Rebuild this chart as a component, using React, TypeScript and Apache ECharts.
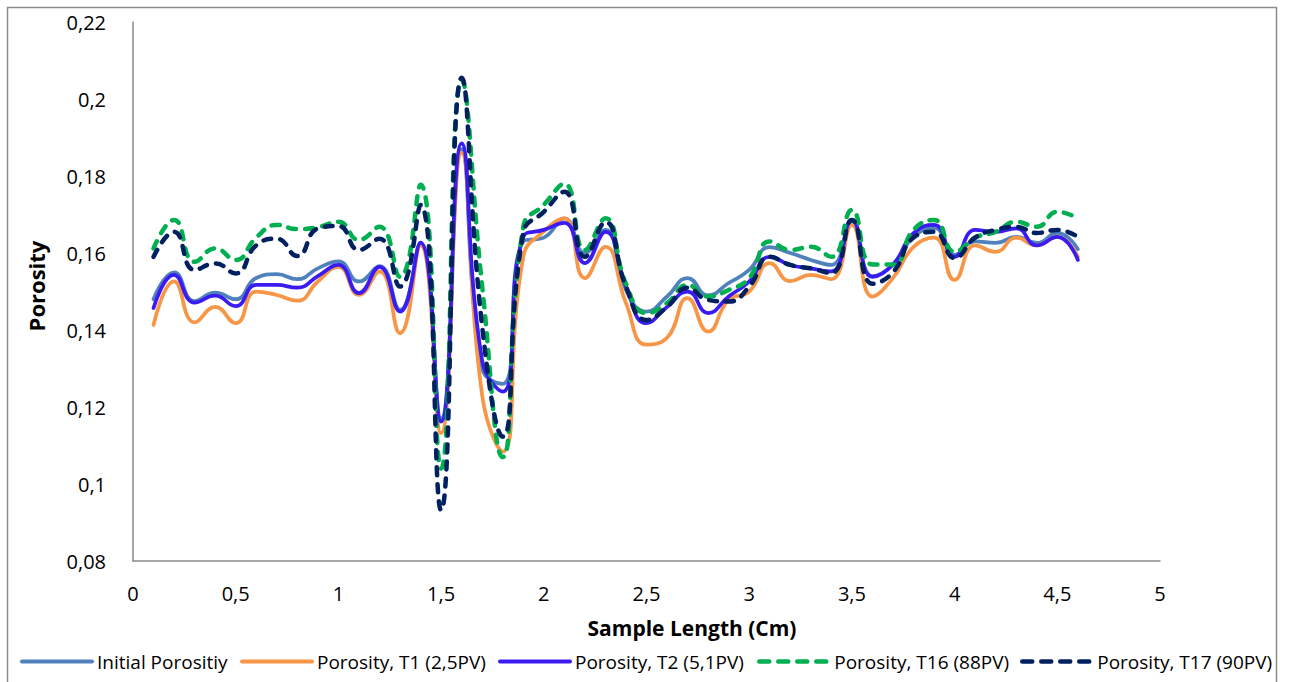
import React, { useEffect, useRef } from "react";
import * as echarts from "echarts";

// Position along the sample (cm)
const sampleLength = [
  0.1, 0.2, 0.3, 0.4, 0.5, 0.6, 0.7, 0.8, 0.9, 1.0,
  1.1, 1.2, 1.3, 1.4, 1.5, 1.6, 1.7, 1.8, 1.9, 2.0,
  2.1, 2.2, 2.3, 2.4, 2.5, 2.6, 2.7, 2.8, 2.9, 3.0,
  3.1, 3.2, 3.3, 3.4, 3.5, 3.6, 3.7, 3.8, 3.9, 4.0,
  4.1, 4.2, 4.3, 4.4, 4.5, 4.6,
];

const initialPorosity = [
  0.148, 0.155, 0.1475, 0.1497, 0.148, 0.1535, 0.1545, 0.1532, 0.156, 0.1578,
  0.1526, 0.1566, 0.1452, 0.1626, 0.117, 0.187, 0.13, 0.126, 0.163, 0.164,
  0.169, 0.16, 0.166, 0.1504, 0.1448, 0.1487, 0.1535, 0.149, 0.1522, 0.1556,
  0.1615, 0.16, 0.1582, 0.1569, 0.1681, 0.154, 0.157, 0.1642, 0.1665, 0.1595,
  0.163, 0.1626, 0.1642, 0.1626, 0.1652, 0.161,
];

const porosityT1 = [
  0.1413, 0.1526, 0.142, 0.146, 0.1418, 0.15, 0.1491, 0.1476, 0.1526, 0.1564,
  0.1491, 0.1552, 0.1392, 0.162, 0.1132, 0.186, 0.123, 0.1084, 0.159, 0.1656,
  0.169, 0.1535, 0.1616, 0.147, 0.1362, 0.138, 0.1483, 0.1396, 0.1478, 0.15,
  0.1574, 0.1527, 0.1543, 0.1532, 0.1673, 0.1487, 0.1535, 0.1616, 0.164, 0.153,
  0.162, 0.1603, 0.164, 0.162, 0.1642, 0.159,
];

const porosityT2 = [
  0.1457, 0.1543, 0.1471, 0.1489, 0.1462, 0.1517, 0.1517, 0.151, 0.154, 0.1569,
  0.1496, 0.1564, 0.1448, 0.1627, 0.1162, 0.1885, 0.132, 0.124, 0.1642, 0.166,
  0.1678, 0.1574, 0.1655, 0.1513, 0.1418, 0.146, 0.15, 0.1444, 0.1487, 0.1526,
  0.159, 0.1569, 0.156, 0.1552, 0.1686, 0.1538, 0.157, 0.1652, 0.1673, 0.159,
  0.166, 0.1655, 0.1664, 0.162, 0.1642, 0.1582,
];

const porosityT16 = [
  0.1612, 0.1686, 0.1577, 0.1612, 0.1582, 0.164, 0.1673, 0.1662, 0.1667, 0.1681,
  0.1634, 0.1668, 0.1538, 0.1777, 0.104, 0.205, 0.1513, 0.107, 0.1668, 0.1725,
  0.178, 0.1608, 0.169, 0.152, 0.1444, 0.147, 0.1517, 0.1487, 0.1504, 0.1535,
  0.163, 0.1608, 0.1616, 0.159, 0.1712, 0.157, 0.157, 0.166, 0.1686, 0.1603,
  0.164, 0.1655, 0.1681, 0.1668, 0.1707, 0.169,
];

const porosityT17 = [
  0.159, 0.1655, 0.1556, 0.1573, 0.1547, 0.162, 0.1637, 0.1592, 0.1664, 0.167,
  0.1608, 0.1637, 0.1513, 0.1725, 0.0932, 0.2055, 0.1409, 0.1123, 0.1652, 0.1707,
  0.1759, 0.159, 0.168, 0.1513, 0.1426, 0.146, 0.151, 0.1478, 0.1474, 0.1513,
  0.159, 0.1569, 0.156, 0.1548, 0.1686, 0.152, 0.155, 0.164, 0.1655, 0.1587,
  0.164, 0.166, 0.1668, 0.1652, 0.166, 0.1642,
];

const seriesNames = [
  "Initial Porositiy",
  "Porosity, T1 (2,5PV)",
  "Porosity, T2 (5,1PV)",
  "Porosity, T16 (88PV)",
  "Porosity, T17 (90PV)",
];

const FONT = "'Open Sans', 'Noto Sans', sans-serif";

const pairs = (ys: number[]) => sampleLength.map((x, i) => [x, ys[i]]);
const commaNumber = (v: number) => String(+v.toFixed(2)).replace(".", ",");

export default function App() {
  const ref = useRef<HTMLDivElement>(null);

  useEffect(() => {
    document.body.style.margin = "0";
    if (!ref.current) return;
    const chart = echarts.init(ref.current, null, { renderer: "svg" });

    const styles = [
      { color: "#4F81BD", dashed: false },
      { color: "#F79646", dashed: false },
      { color: "#3A1CF2", dashed: false },
      { color: "#00B050", dashed: true },
      { color: "#002060", dashed: true },
    ];
    const values = [initialPorosity, porosityT1, porosityT2, porosityT16, porosityT17];
    const legendLeft = [20, 240, 498, 757, 1020];

    chart.setOption({
      animation: false,
      backgroundColor: "#ffffff",
      grid: { left: 133, right: 130, top: 22, bottom: 121 },
      legend: seriesNames.map((name, i) => ({
        data: [name],
        left: legendLeft[i],
        top: 652,
        padding: 0,
        itemWidth: 70,
        itemHeight: 14,
        itemStyle: { color: "rgba(0,0,0,0)", borderWidth: 0, opacity: 0 },
        lineStyle: styles[i].dashed
          ? { width: 4.5, type: [10, 9], cap: "round", color: styles[i].color }
          : { width: 4, type: "solid", color: styles[i].color },
        textStyle: { fontFamily: FONT, fontSize: 19, color: "#000" },
      })),
      xAxis: {
        type: "value",
        min: 0,
        max: 5,
        interval: 0.5,
        axisLine: { show: true, lineStyle: { color: "#898989", width: 1.5 } },
        axisTick: { show: false },
        splitLine: { show: false },
        axisLabel: {
          margin: 22,
          fontFamily: FONT,
          fontSize: 20,
          color: "#000",
          formatter: (v: number) => commaNumber(v),
        },
      },
      yAxis: {
        type: "value",
        min: 0.08,
        max: 0.22,
        interval: 0.02,
        axisLine: { show: true, lineStyle: { color: "#898989", width: 1.5 } },
        axisTick: { show: false },
        splitLine: { show: false },
        axisLabel: {
          margin: 27,
          fontFamily: FONT,
          fontSize: 20,
          color: "#000",
          formatter: (v: number) => commaNumber(v),
        },
      },
      graphic: [
        {
          type: "rect",
          shape: { x: 7.5, y: 7.5, width: 1269, height: 700 },
          style: { fill: "none", stroke: "#8c8c8c", lineWidth: 1.5 },
          silent: true,
        },
        {
          type: "text",
          x: 692,
          y: 628,
          style: {
            text: "Sample Length (Cm)",
            font: `bold 21px ${FONT}`,
            fill: "#000",
            align: "center",
            verticalAlign: "middle",
          },
        },
        {
          type: "text",
          x: 36,
          y: 286,
          rotation: Math.PI / 2,
          style: {
            text: "Porosity",
            font: `bold 22px ${FONT}`,
            fill: "#000",
            align: "center",
            verticalAlign: "middle",
          },
        },
      ],
      series: seriesNames.map((name, i) => ({
        name,
        type: "line",
        data: pairs(values[i]),
        smooth: 0.5,
        symbol: "none",
        lineStyle: styles[i].dashed
          ? { color: styles[i].color, width: 4.5, type: [8, 9], cap: "round" }
          : { color: styles[i].color, width: 3.75, type: "solid", cap: "round" },
        itemStyle: { color: styles[i].color },
      })),
    });

    return () => chart.dispose();
  }, []);

  return <div ref={ref} style={{ width: 1290, height: 682 }} />;
}
